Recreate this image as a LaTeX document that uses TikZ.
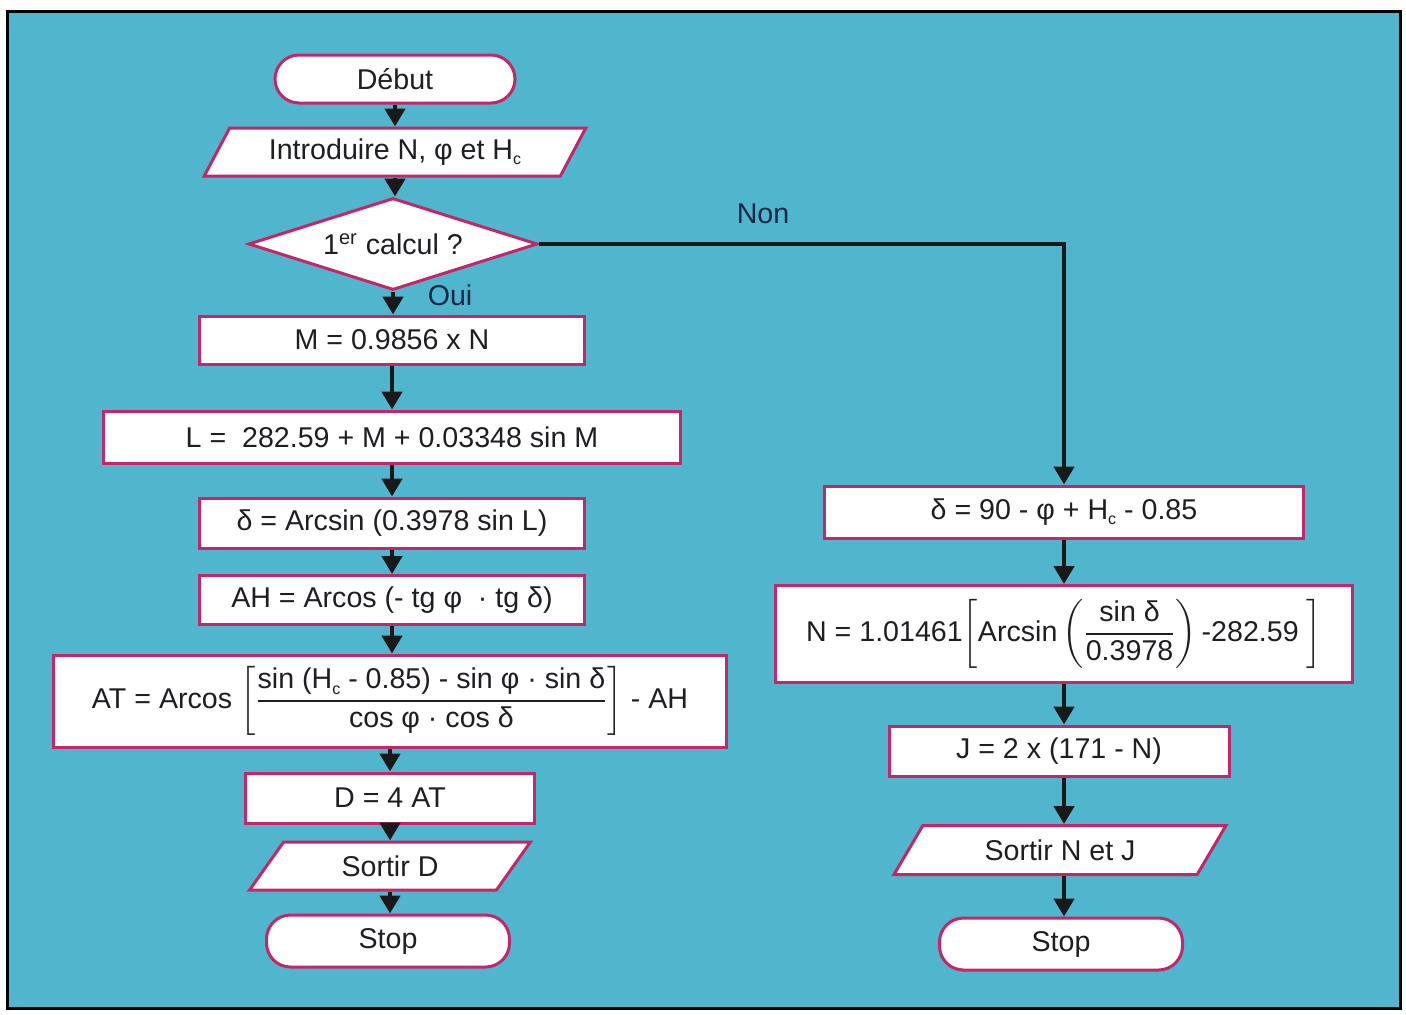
\documentclass[tikz,border=0pt]{standalone}
\usepackage{fontspec}
\setmainfont{Liberation Sans}
\usepackage{amsmath}
\usetikzlibrary{shapes.geometric,arrows.meta}
\definecolor{bgblue}{RGB}{80,182,206}
\definecolor{boxred}{RGB}{196,38,102}
\definecolor{inktxt}{RGB}{30,30,35}
\definecolor{lbltxt}{RGB}{20,40,70}
\newcommand\Hsub{H\raisebox{-0.35ex}{\footnotesize c}}
\begin{document}
\begin{tikzpicture}[x=0.5pt,y=-0.5pt,
  box/.style={draw=boxred,line width=1.5pt,fill=white,inner sep=2pt,font=\fontsize{14.3}{17}\selectfont,text=inktxt},
  proc/.style={box,rectangle},
  term/.style={box,rectangle,rounded corners=12pt},
  io/.style={box,trapezium,trapezium left angle=60,trapezium right angle=120,trapezium stretches=true},
  decision/.style={box,diamond,inner sep=0pt,aspect=3.1},
  arr/.style={line width=2.4pt,draw=black!90,-{Triangle[length=9pt,width=10pt]}},
  lbl/.style={font=\fontsize{14.3}{17}\selectfont,text=lbltxt}
]
\useasboundingbox (0,0) rectangle (1406,1014);
\fill[white] (0,0) rectangle (1406,1014);
\draw[line width=1.5pt,fill=bgblue] (7,11) rectangle (1400,1008);

% left column
\node[term,minimum width=120pt,minimum height=24pt] (start) at (395,79) {Début};
\node[io,minimum width=191pt,minimum height=24pt] (in) at (395,152) {Introduire N, φ et \Hsub};
\node[decision,minimum width=144.5pt,minimum height=46pt] (dec) at (393,244) {1\textsuperscript{er} calcul ?};
\node[proc,minimum width=192.5pt,minimum height=24pt] (m) at (392,340) {M = 0.9856 x N};
\node[proc,minimum width=288.5pt,minimum height=26pt] (l) at (392,437) {L =\ \ 282.59 + M + 0.03348 sin M};
\node[proc,minimum width=192.5pt,minimum height=25pt] (del) at (392,523) {δ = Arcsin (0.3978 sin L)};
\node[proc,minimum width=192.5pt,minimum height=24.5pt] (ah) at (392,600) {AH = Arcos (- tg φ\ \ · tg δ)};
\node[proc,minimum width=336.5pt,minimum height=46pt] (at) at (390,701) {AT = Arcos $\left[\dfrac{\text{sin (\Hsub\ - 0.85) - sin φ · sin δ}}{\text{cos φ · cos δ}}\right]$ - AH};
\node[proc,minimum width=144.5pt,minimum height=25pt] (d) at (390,798) {D = 4 AT};
\node[io,minimum width=141pt,minimum height=24pt] (outd) at (390,866) {Sortir D};
\node[term,minimum width=121.5pt,minimum height=26pt] (stop1) at (388,941) {Stop};

% right column
\node[proc,minimum width=239.5pt,minimum height=26pt] (d90) at (1064,512) {δ = 90 - φ + \Hsub\ - 0.85};
\node[proc,minimum width=288.5pt,minimum height=48.5pt] (n) at (1064,634) {N = 1.01461$\left[\text{Arcsin}\left(\dfrac{\text{sin δ}}{\text{0.3978}}\right)\text{-282.59}\ \right]$};
\node[proc,minimum width=170pt,minimum height=25pt] (j) at (1059,751) {J = 2 x (171 - N)};
\node[io,minimum width=167.5pt,minimum height=24.5pt] (outnj) at (1060,850) {Sortir N et J};
\node[term,minimum width=121.5pt,minimum height=26pt] (stop2) at (1061,944) {Stop};

% labels
\node[lbl] (oui) at (450,295) {Oui};
\node[lbl] (non) at (763,214) {Non};

% connectors (kept vertical)
\draw[arr] (start.south) -- (start.south |- in.north);
\draw[arr] (in.south) -- (in.south |- dec.north);
\draw[arr] (dec.south) -- (dec.south |- m.north);
\draw[arr] (dec.east) -| (d90.north);
\draw[arr] (m.south) -- (m.south |- l.north);
\draw[arr] (l.south) -- (l.south |- del.north);
\draw[arr] (del.south) -- (del.south |- ah.north);
\draw[arr] (ah.south) -- (ah.south |- at.north);
\draw[arr] (at.south) -- (at.south |- d.north);
\draw[arr] (d.south) -- (d.south |- outd.north);
\draw[arr] (outd.south) -- (outd.south |- stop1.north);
\draw[arr] (d90.south) -- (d90.south |- n.north);
\draw[arr] (n.south) -- (n.south |- j.north);
\draw[arr] (n.south |- j.south) -- (n.south |- outnj.north);
\draw[arr] (n.south |- outnj.south) -- (n.south |- stop2.north);
\end{tikzpicture}
\end{document}
